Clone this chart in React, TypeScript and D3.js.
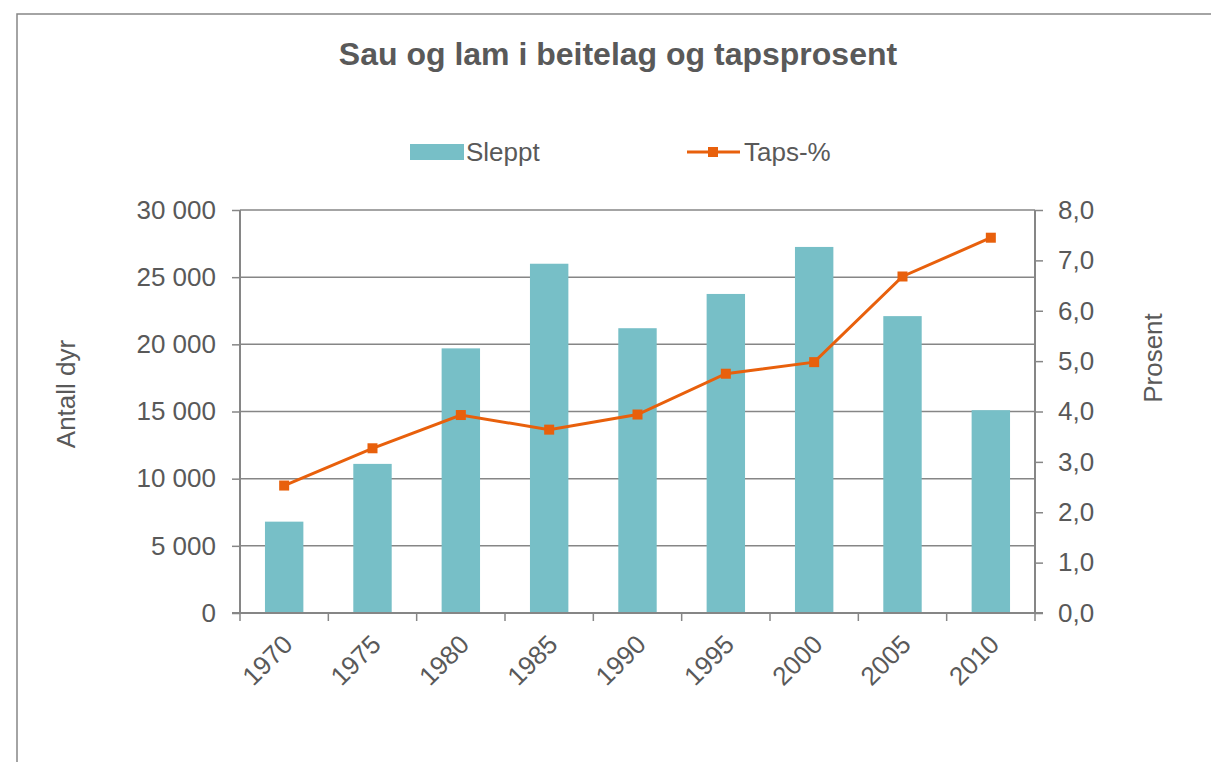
import { useEffect, useRef } from "react"
import * as d3 from "d3"

// data
const years = ["1970", "1975", "1980", "1985", "1990", "1995", "2000", "2005", "2010"]
const sleppt = [6800, 11100, 19700, 26000, 21200, 23750, 27250, 22100, 15100]
const tapsProsent = [2.53, 3.27, 3.93, 3.64, 3.94, 4.75, 4.98, 6.68, 7.45]
const leftTicks = [0, 5000, 10000, 15000, 20000, 25000, 30000]
const rightTicks = [0, 1, 2, 3, 4, 5, 6, 7, 8]

const W = 1211
const H = 762
const FONT = "Liberation Sans, Arial, sans-serif"
const FS = "26px"
const TEXT = "#595959"
const AXIS = "#868686"
const BAR = "#77BFC7"
const LINE = "#E8600C"

const App = () => {
  const ref = useRef<SVGSVGElement>(null)

  useEffect(() => {
    const svg = d3.select(ref.current)
    svg.selectAll("*").remove()

    const margin = { top: 210, right: 176, bottom: 149, left: 240 }
    const width = W - margin.left - margin.right
    const height = H - margin.top - margin.bottom

    // outer frame
    svg
      .append("rect")
      .attr("x", 17)
      .attr("y", 14)
      .attr("width", W)
      .attr("height", H)
      .attr("fill", "white")
      .attr("stroke", AXIS)
      .attr("stroke-width", 1.5)

    svg
      .append("text")
      .text("Sau og lam i beitelag og tapsprosent")
      .attr("x", 618)
      .attr("y", 65)
      .attr("text-anchor", "middle")
      .attr("font-family", FONT)
      .attr("font-size", "32px")
      .attr("font-weight", "bold")
      .attr("fill", TEXT)

    const g = svg.append("g").attr("transform", `translate(${margin.left},${margin.top})`)

    const x = d3.scaleBand().domain(years).range([0, width])
    const y = d3.scaleLinear().domain([0, 30000]).range([height, 0])
    const y2 = d3.scaleLinear().domain([0, 8]).range([height, 0])

    // gridlines
    g.selectAll(".grid")
      .data(leftTicks.slice(1))
      .enter()
      .append("line")
      .attr("x1", 0)
      .attr("x2", width)
      .attr("y1", (d) => y(d))
      .attr("y2", (d) => y(d))
      .attr("stroke", AXIS)
      .attr("stroke-width", 1.5)

    // bars
    const bw = x.bandwidth() / 2.3
    g.selectAll(".bar")
      .data(sleppt)
      .enter()
      .append("rect")
      .attr("x", (d, i) => x(years[i])! + x.bandwidth() / 2 - bw / 2)
      .attr("y", (d) => y(d))
      .attr("width", bw)
      .attr("height", (d) => height - y(d))
      .attr("fill", BAR)

    // left axis
    const fmt = (v: number) => d3.format(",")(v).replace(/,/g, " ")
    const left = g
      .append("g")
      .call(d3.axisLeft(y).tickValues(leftTicks).tickSize(8).tickPadding(16).tickFormat((d) => fmt(+d)))
    left.select(".domain").attr("stroke", AXIS).attr("stroke-width", 2).attr("d", `M0,${height}V0`)
    left.selectAll(".tick line").attr("stroke", AXIS).attr("stroke-width", 1.5)
    left.selectAll("text").attr("font-family", FONT).attr("font-size", FS).attr("fill", TEXT)

    // right axis
    const right = g
      .append("g")
      .attr("transform", `translate(${width},0)`)
      .call(d3.axisRight(y2).tickValues(rightTicks).tickSize(8).tickPadding(15).tickFormat((d) => d3.format(".1f")(+d).replace(".", ",")))
    right.select(".domain").attr("stroke", AXIS).attr("stroke-width", 2).attr("d", `M0,${height}V0`)
    right.selectAll(".tick line").attr("stroke", AXIS).attr("stroke-width", 1.5)
    right.selectAll("text").attr("font-family", FONT).attr("font-size", FS).attr("fill", TEXT)

    // bottom axis
    const bottom = g
      .append("g")
      .attr("transform", `translate(0,${height})`)
      .call(d3.axisBottom(x).tickSize(0).tickPadding(0))
    bottom.select(".domain").remove()
    bottom
      .append("line")
      .attr("x1", -8)
      .attr("x2", width + 8)
      .attr("stroke", AXIS)
      .attr("stroke-width", 2)
    bottom
      .selectAll(".sep")
      .data(d3.range(years.length + 1))
      .enter()
      .append("line")
      .attr("x1", (i) => (i * width) / years.length)
      .attr("x2", (i) => (i * width) / years.length)
      .attr("y1", 0)
      .attr("y2", 8)
      .attr("stroke", AXIS)
      .attr("stroke-width", 1.5)
    bottom
      .selectAll(".tick text")
      .attr("font-family", FONT)
      .attr("font-size", FS)
      .attr("fill", TEXT)
      .attr("text-anchor", "end")
      .attr("dy", "0")
      .attr("transform", "translate(10,33)rotate(-45)")

    // line
    const cx = (i: number) => x(years[i])! + x.bandwidth() / 2
    const line = d3
      .line<number>()
      .x((d, i) => cx(i))
      .y((d) => y2(d))
    g.append("path")
      .datum(tapsProsent)
      .attr("d", line)
      .attr("fill", "none")
      .attr("stroke", LINE)
      .attr("stroke-width", 3)
    g.selectAll(".pt")
      .data(tapsProsent)
      .enter()
      .append("rect")
      .attr("x", (d, i) => cx(i) - 5)
      .attr("y", (d) => y2(d) - 5)
      .attr("width", 10)
      .attr("height", 10)
      .attr("fill", LINE)

    // axis titles
    svg
      .append("text")
      .text("Antall dyr")
      .attr("transform", "translate(75,394)rotate(-90)")
      .attr("text-anchor", "middle")
      .attr("font-family", FONT)
      .attr("font-size", FS)
      .attr("fill", TEXT)
    svg
      .append("text")
      .text("Prosent")
      .attr("transform", "translate(1162,358)rotate(-90)")
      .attr("text-anchor", "middle")
      .attr("font-family", FONT)
      .attr("font-size", FS)
      .attr("fill", TEXT)

    // legend
    const lg = svg.append("g")
    lg.append("rect").attr("x", 410).attr("y", 144).attr("width", 54).attr("height", 16).attr("fill", BAR)
    lg.append("text")
      .text("Sleppt")
      .attr("x", 466)
      .attr("y", 161)
      .attr("font-family", FONT)
      .attr("font-size", FS)
      .attr("fill", TEXT)
    lg.append("line").attr("x1", 687).attr("x2", 740).attr("y1", 152).attr("y2", 152).attr("stroke", LINE).attr("stroke-width", 3)
    lg.append("rect").attr("x", 708).attr("y", 147).attr("width", 10).attr("height", 10).attr("fill", LINE)
    lg.append("text")
      .text("Taps-%")
      .attr("x", 744)
      .attr("y", 161)
      .attr("font-family", FONT)
      .attr("font-size", FS)
      .attr("fill", TEXT)
  }, [])

  return (
    <div>
      <svg ref={ref} width={W} height={H} style={{ position: "absolute", left: 0, top: 0 }} />
    </div>
  )
}

export default App
